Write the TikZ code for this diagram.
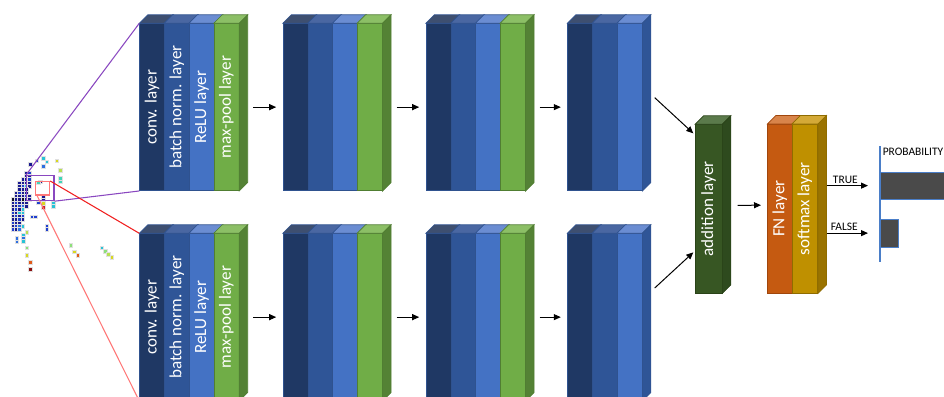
\documentclass[tikz,border=0pt]{standalone}
\usepackage{fontspec}
\setmainfont{Carlito}
\usetikzlibrary{arrows.meta}

% layer colours: front / top / side
\definecolor{convF}{HTML}{1F3864}
\definecolor{convT}{HTML}{3E4F70}
\definecolor{bnF}{HTML}{2F5597}
\definecolor{bnT}{HTML}{4A67A2}
\definecolor{reF}{HTML}{4472C4}
\definecolor{reT}{HTML}{6B8DD2}
\definecolor{reS}{HTML}{2F5597}
\definecolor{mpF}{HTML}{70AD47}
\definecolor{mpT}{HTML}{8CBF66}
\definecolor{mpS}{HTML}{548235}
\definecolor{addF}{HTML}{375623}
\definecolor{addT}{HTML}{5B7A4B}
\definecolor{addS}{HTML}{2E4A1E}
\definecolor{fnF}{HTML}{C55A11}
\definecolor{fnT}{HTML}{D8844A}
\definecolor{smF}{HTML}{BF9000}
\definecolor{smT}{HTML}{D4A937}
\definecolor{smS}{HTML}{9A7300}
\definecolor{edgeB}{HTML}{2F528F}
\definecolor{edgeG}{HTML}{507E32}
\definecolor{edgeA}{HTML}{2A4318}
\definecolor{edgeO}{HTML}{A0460C}
\definecolor{edgeY}{HTML}{8F6C00}
\definecolor{axisblue}{HTML}{4A7EC8}
\definecolor{bargray}{HTML}{4A4A4A}
\definecolor{zoomviolet}{HTML}{8A48C0}
\definecolor{zoomred}{HTML}{F02020}
\definecolor{zoompink}{HTML}{FF7878}
% scatter colours
\definecolor{nv}{HTML}{1A1A90}
\definecolor{bl}{HTML}{1F3FD0}
\definecolor{mb}{HTML}{2E6FE0}
\definecolor{cy}{HTML}{27C3D6}
\definecolor{tl}{HTML}{3FD6B8}
\definecolor{lg}{HTML}{8EE07A}
\definecolor{yl}{HTML}{D8D820}
\definecolor{yg}{HTML}{B8E050}
\definecolor{orr}{HTML}{E05A1A}
\definecolor{rd}{HTML}{D02020}
\definecolor{dr}{HTML}{8A1010}
\definecolor{bk}{HTML}{101028}

\tikzset{
  slab/.style={rectangle, anchor=north west, inner sep=0pt, text=white,
    font=\fontsize{12.8}{14}\selectfont, line width=0.5pt},
  arr/.style={-{Triangle[length=7*0.75pt,width=6*0.75pt]}, line width=0.75pt, black},
  dot/.style={draw=black!12, line width=0.25pt},
  smalltext/.style={font=\fontsize{8.6}{10}\selectfont, text=black},
  bar/.style={rectangle, anchor=north west, inner sep=0pt, fill=bargray, draw=axisblue, line width=0.4pt},
}

% one slab: name, anchor point, front, top, outline, width, height, label
\newcommand\layerslab[8]{%
  \node[slab, fill=#3, draw=#5, minimum width=#6*0.75pt, minimum height=#7*0.75pt] (#1) at (#2) {\rotatebox{90}{#8}};
  \filldraw[fill=#4, draw=#5, line width=0.5pt] (#1.north west) -- ++(8.5,-8.5)
    -- ([shift={(8.5,-8.5)}]#1.north east) -- (#1.north east) -- cycle;}
% side face of the last slab: node, fill, outline
\newcommand\slabside[3]{%
  \filldraw[fill=#2, draw=#3, line width=0.5pt] (#1.north east) -- ++(8.5,-8.5)
    -- ([shift={(8.5,-8.5)}]#1.south east) -- (#1.south east) -- cycle;}
% conv / batch norm / ReLU / max-pool stack
\newcommand\fourblock[7]{%
  \layerslab{#1a}{#2,#3}{convF}{convT}{edgeB}{24.8}{167}{#4}
  \layerslab{#1b}{{#2+24.8},#3}{bnF}{bnT}{edgeB}{24.8}{167}{#5}
  \layerslab{#1c}{{#2+49.6},#3}{reF}{reT}{edgeB}{24.8}{167}{#6}
  \layerslab{#1d}{{#2+74.4},#3}{mpF}{mpT}{edgeG}{24.8}{167}{#7}
  \slabside{#1d}{mpS}{edgeG}}
% conv / batch norm / ReLU stack
\newcommand\threeblock[3]{%
  \layerslab{#1a}{#2,#3}{convF}{convT}{edgeB}{24.8}{167}{}
  \layerslab{#1b}{{#2+24.8},#3}{bnF}{bnT}{edgeB}{24.8}{167}{}
  \layerslab{#1c}{{#2+49.6},#3}{reF}{reT}{edgeB}{24.8}{167}{}
  \slabside{#1c}{reS}{edgeB}}

\begin{document}
\begin{tikzpicture}[x=0.75pt, y=-0.75pt]
\path[use as bounding box] (0,0) rectangle (944,396);
\clip (0,0) rectangle (944,396);

% ---- input scatter ----
\foreach \px/\py/\c in {
  30/164/nv, 36.7/160.7/bl, 43.3/158.3/cy, 46.7/161.7/cy, 43.3/166/mb, 56.7/160.7/yl,
  60/170/yg, 60/178.3/tl, 60/181.7/tl,
  26/172.7/nv, 29.3/172.7/bl, 26/176/nv, 29.3/176/nv,
  22.7/179.3/nv, 26/179.3/nv, 29.3/179.3/bl,
  19.3/182.7/nv, 22.7/182.7/nv, 26/182.7/nv, 29.3/182.7/nv,
  19.3/186/nv, 22.7/186/bl, 26/186/cy, 29.3/186/nv,
  19.3/189.3/nv, 22.7/189.3/nv, 26/189.3/nv,
  16/192.7/nv, 19.3/192.7/bl, 22.7/192.7/nv, 26/192.7/nv,
  16/196/nv, 19.3/196/nv, 22.7/196/nv, 26/196/bl, 29.3/196/nv,
  12.7/199.3/bk, 16/199.3/nv, 19.3/199.3/nv, 22.7/199.3/bk, 26/199.3/nv, 29.3/199.3/nv,
  12.7/202.7/nv, 16/202.7/bl, 19.3/202.7/nv, 22.7/202.7/nv, 26/202.7/nv,
  12.7/206/nv, 16/206/nv, 19.3/206/bl, 22.7/206/mb, 26/206/nv,
  12.7/209.3/nv, 16/209.3/bl, 19.3/209.3/nv, 22.7/209.3/cy,
  12.7/212.7/bl, 16/212.7/nv, 19.3/212.7/cy, 22.7/212.7/cy,
  12.7/216/nv, 16/216/bl, 19.3/216/nv, 22.7/216/bl,
  12.7/219.3/nv, 16/219.3/nv, 19.3/219.3/bl, 22.7/219.3/nv,
  12.7/222.7/bl, 16/222.7/nv, 19.3/222.7/nv,
  12.7/226/nv, 16/226/bl, 19.3/226/mb, 22.7/226/cy,
  12.7/229.3/bl, 16/229.3/nv, 19.3/229.3/mb,
  40/181.7/nv, 38.3/182.7/tl, 38.3/202.7/bl, 43.3/196.7/nv, 43.3/200/nv,
  43.3/203.3/yl, 43.3/207.3/rd, 53.3/202.7/cy, 53.3/206/cy,
  31.7/216.7/bl, 35/216.7/bl, 46.7/226/bl, 46.7/229.3/bl,
  26.7/232.3/yg, 16.7/238.3/mb, 16.7/241.7/mb, 23.3/235/cy, 23.3/238.3/mb, 23.3/241/cy,
  26.7/247.7/lg, 26.7/255/yl, 30/262.3/orr, 30/269.3/dr,
  70.7/245/lg, 74/251.7/yl, 77.7/255/orr,
  101.7/247.7/cy, 105/251/lg, 108.3/254.3/yg, 111.7/257.3/yl}
  \filldraw[dot, fill=\c] ({\px-1.7},{\py-1.7}) rectangle ++(3.4,3.4);

% zoom windows on the scatter
\node[draw=zoomviolet, line width=0.9pt, inner sep=0pt, anchor=north west,
      minimum width=27.3*0.75pt, minimum height=25*0.75pt] (winA) at (26,175) {};
\node[draw=zoompink, line width=0.9pt, inner sep=0pt, anchor=north west,
      minimum width=14*0.75pt, minimum height=13.3*0.75pt] (winB) at (35,181) {};

% ---- top branch ----
\fourblock{A}{139.3}{23.3}{conv. layer}{batch norm. layer}{ReLU layer}{max-pool layer}
\fourblock{B}{282.7}{23.3}{}{}{}{}
\fourblock{C}{425.7}{23.3}{}{}{}{}
\threeblock{D}{567.3}{23.3}

% ---- bottom branch ----
\fourblock{E}{139.3}{233.3}{conv. layer}{batch norm. layer}{ReLU layer}{max-pool layer}
\fourblock{F}{282.7}{233.3}{}{}{}{}
\fourblock{G}{425.7}{233.3}{}{}{}{}
\threeblock{H}{567.3}{233.3}

% lines from the zoom windows to the branches
\draw[zoomviolet, line width=0.8pt] (winA.north west) -- (Aa.north west);
\draw[zoomviolet, line width=0.8pt] (winA.south east) -- (Aa.south west);
\draw[zoomred, line width=0.8pt] (winB.north east) -- (Ea.north west);
\draw[zoompink, line width=0.8pt] ([xshift=2*0.75pt]winB.south west) -- (Ea.south west);

% ---- merge and classifier ----
\layerslab{add}{695,124.3}{addF}{addT}{edgeA}{26.7}{168.4}{addition layer}
\slabside{add}{addS}{edgeA}
\layerslab{fn}{767.3,124}{fnF}{fnT}{edgeO}{24.6}{168.7}{FN layer}
\layerslab{sm}{791.9,124}{smF}{smT}{edgeY}{25.4}{168.7}{softmax layer}
\slabside{sm}{smS}{edgeY}

% arrows along the branches
\foreach \u/\v in {Ad/Ba, Bd/Ca, Cd/Da, Ed/Fa, Fd/Ga, Gd/Ha}
  \draw[arr] ([xshift=14*0.75pt]\u.east) -- ([xshift=-6.5*0.75pt]\v.west);
\draw[arr] ([shift={(12.3,-9.5)}]Dc.east) -- ([shift={(-1.7,9)}]add.north west);
\draw[arr] ([shift={(12.3,-29.1)}]Hc.east) -- ([shift={(-1.7,-41)}]add.south west);
\draw[arr] ([shift={(15.3,-3.5)}]add.east) -- ([shift={(-6.3,-3.5)}]fn.west);

% ---- output probabilities ----
\coordinate (axtop) at (880,146);
\coordinate (axbot) at (880,262);
\coordinate (smedge) at ([xshift=8.7*0.75pt]sm.east);
\node[bar, minimum width=70*0.75pt, minimum height=27.3*0.75pt] (truebar) at (880,171.7) {};
\node[bar, minimum width=17.7*0.75pt, minimum height=27.7*0.75pt] (falsebar) at (880,219) {};
\draw[axisblue, line width=0.8pt] (axtop) -- (axbot);
\node[smalltext, anchor=west, inner sep=0pt] (probtitle) at (882.5,152) {PROBABILITY};
\draw[arr] (smedge |- truebar.west) -- node[smalltext, above, inner sep=1.5pt, xshift=-2*0.75pt] {TRUE} ([xshift=-12*0.75pt]truebar.west);
\draw[arr] (smedge |- falsebar.west) -- node[smalltext, above, inner sep=1.5pt, xshift=-3*0.75pt] {FALSE} ([xshift=-12*0.75pt]falsebar.west);
\end{tikzpicture}
\end{document}
